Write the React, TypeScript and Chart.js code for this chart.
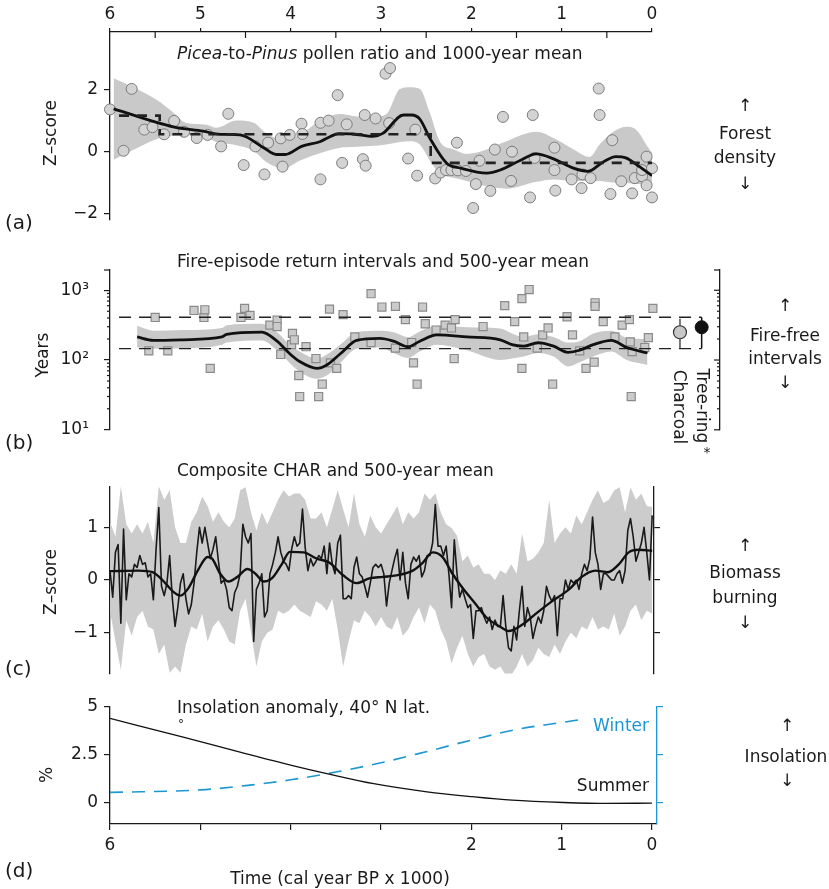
import React, { useEffect, useRef } from 'react';
import { Chart, registerables } from 'chart.js';

Chart.register(...registerables);

const FONT = "'DejaVu Sans', 'Liberation Sans', sans-serif";
const INK = '#1a1a1a';
const BLUE = '#1d97d4';
const BAND = '#c9c9c9';

Chart.defaults.font.family = FONT;
Chart.defaults.font.size = 17;
Chart.defaults.color = INK;

// ---------------- Panel (a): Picea-to-Pinus pollen ratio ----------------
const PICEA_T = [6.00, 5.85, 5.76, 5.62, 5.53, 5.40, 5.29, 5.18, 5.04, 4.92, 4.77, 4.69, 4.52, 4.39, 4.29, 4.25, 4.11, 4.09, 4.01, 3.88, 3.87, 3.67, 3.67, 3.58, 3.48, 3.43, 3.38, 3.20, 3.18, 3.17, 3.06, 2.95, 2.91, 2.90, 2.70, 2.62, 2.60, 2.40, 2.34, 2.28, 2.22, 2.16, 2.15, 2.06, 1.98, 1.95, 1.91, 1.79, 1.74, 1.65, 1.56, 1.55, 1.35, 1.32, 1.30, 1.08, 1.08, 1.07, 0.89, 0.78, 0.77, 0.68, 0.59, 0.58, 0.46, 0.44, 0.34, 0.22, 0.19, 0.11, 0.11, 0.06, 0.06, 0.00, 0.00];
const PICEA_Z = [1.35, 0.02, 2.01, 0.70, 0.78, 0.55, 0.98, 0.63, 0.43, 0.53, 0.16, 1.21, -0.44, 0.16, -0.74, 0.28, 0.42, -0.49, 0.53, 0.89, 0.56, -0.90, 0.92, 0.99, 1.81, -0.37, 0.87, -0.25, 1.17, -0.46, 1.06, 2.50, 0.91, 2.68, -0.23, 0.70, -0.78, -0.87, -0.68, -0.60, -0.60, 0.28, -0.61, -0.63, -1.82, -1.05, -0.30, -1.27, 0.06, 1.11, -0.95, -0.01, -1.48, 1.17, -0.21, 0.12, -0.60, -1.26, -0.90, -1.18, -0.74, -0.86, 2.02, 1.17, -1.37, 0.36, -0.96, -1.35, -0.86, -0.80, -0.60, -0.17, -1.09, -0.54, -1.48];
const PICEA_MEAN_T = [5.96, 5.30, 4.97, 4.78, 4.56, 4.30, 4.16, 4.06, 3.88, 3.67, 3.56, 3.47, 3.31, 3.09, 2.98, 2.75, 2.66, 2.57, 2.46, 2.27, 2.12, 1.83, 1.68, 1.46, 1.28, 1.09, 0.87, 0.71, 0.54, 0.40, 0.29, 0.14, 0.00];
const PICEA_MEAN_Z = [1.37, 0.79, 0.65, 0.55, 0.53, 0.12, -0.10, -0.10, 0.16, 0.32, 0.48, 0.57, 0.56, 0.48, 0.58, 1.17, 1.17, 1.04, 0.43, -0.39, -0.54, -0.70, -0.60, -0.29, -0.08, -0.24, -0.54, -0.64, -0.34, -0.17, -0.21, -0.49, -0.78];
const PICEA_BAND_T = [5.96, 5.74, 5.48, 5.30, 5.16, 4.93, 4.82, 4.60, 4.41, 4.27, 4.08, 3.90, 3.67, 3.45, 3.31, 3.12, 2.94, 2.79, 2.68, 2.57, 2.46, 2.35, 2.20, 2.05, 1.87, 1.61, 1.28, 1.09, 0.87, 0.69, 0.58, 0.43, 0.28, 0.17, 0.04, 0.00];
const PICEA_BAND_UP = [2.35, 2.06, 1.65, 1.25, 0.92, 0.86, 0.76, 0.99, 0.92, 0.58, 0.38, 0.53, 0.99, 1.20, 1.14, 1.09, 1.20, 2.01, 2.06, 2.01, 1.25, 0.33, 0.07, -0.08, 0.02, 0.33, 0.63, 0.43, 0.07, -0.18, 0.22, 0.63, 0.79, 0.68, 0.12, -0.04];
const PICEA_BAND_LO = [-0.27, 0.05, 0.40, 0.50, 0.52, 0.45, 0.30, 0.20, 0.02, -0.34, -0.55, -0.30, -0.05, 0.12, 0.14, 0.17, 0.22, 0.30, 0.33, 0.22, -0.29, -0.70, -0.85, -0.95, -1.10, -1.20, -0.98, -0.90, -0.95, -0.95, -0.95, -1.00, -1.02, -1.05, -1.10, -1.20];
const PICEA_STEP_T = [5.9, 5.45, 5.45, 2.45, 2.45, 0.0];
const PICEA_STEP_Z = [1.15, 1.15, 0.55, 0.55, -0.37, -0.37];
const TOP_TICKS = [6, 5, 4, 3, 2, 1, 0];
const TOP_MINOR_TICKS = [5.5, 4.5, 3.5, 2.5, 1.5, 0.5];

// ---------------- Panel (b): fire-episode return intervals ----------------
const FRI_T = [5.57, 5.50, 5.36, 5.07, 4.96, 4.95, 4.89, 4.55, 4.51, 4.45, 4.23, 4.15, 4.15, 4.11, 3.99, 3.98, 3.96, 3.91, 3.90, 3.83, 3.72, 3.69, 3.65, 3.57, 3.56, 3.49, 3.42, 3.29, 3.11, 3.11, 2.99, 2.84, 2.84, 2.73, 2.66, 2.64, 2.60, 2.54, 2.51, 2.39, 2.29, 2.22, 2.19, 2.18, 1.87, 1.63, 1.52, 1.44, 1.44, 1.42, 1.36, 1.27, 1.21, 1.15, 1.10, 0.94, 0.88, 0.80, 0.73, 0.64, 0.63, 0.63, 0.54, 0.41, 0.33, 0.25, 0.24, 0.23, 0.22, 0.08, 0.04, -0.01];
const FRI_YEARS = [135, 407, 135, 513, 407, 525, 76, 407, 550, 437, 316, 372, 302, 120, 166, 240, 195, 60, 30, 155, 105, 30, 45, 537, 91, 76, 447, 214, 891, 178, 575, 589, 148, 380, 178, 91, 45, 575, 331, 269, 316, 288, 105, 380, 302, 603, 355, 759, 76, 214, 1023, 148, 229, 288, 45, 417, 229, 135, 76, 93, 661, 589, 355, 214, 316, 380, 182, 30, 132, 151, 209, 550];
const FRI_MEAN_T = [5.70, 5.52, 5.19, 4.76, 4.71, 4.32, 4.15, 4.01, 3.90, 3.71, 3.60, 3.45, 3.27, 3.01, 2.86, 2.70, 2.57, 2.38, 2.05, 1.68, 1.55, 1.42, 1.26, 1.09, 0.93, 0.80, 0.65, 0.45, 0.28, 0.05];
const FRI_MEAN = [214, 191, 195, 214, 234, 251, 186, 123, 95, 76, 85, 123, 191, 204, 186, 155, 186, 229, 214, 195, 166, 158, 178, 158, 129, 138, 166, 191, 151, 126];
const FRI_BAND_UP = [309, 263, 269, 288, 316, 331, 251, 166, 132, 105, 120, 166, 251, 263, 251, 214, 257, 309, 295, 282, 240, 214, 234, 214, 178, 186, 240, 263, 209, 200];
const FRI_BAND_LO = [151, 145, 148, 166, 178, 191, 138, 91, 68, 54, 60, 91, 145, 151, 126, 107, 132, 166, 138, 100, 105, 112, 126, 112, 81, 93, 112, 132, 100, 85];
const FRI_RANGE_T = [5.9, -0.55];
const FRI_RANGE_HIGH = 410;
const FRI_RANGE_LOW = 146;
const CHARCOAL_T = -0.31;
const CHARCOAL_MEAN = 250;
const CHARCOAL_RANGE = [148, 390];
const TREERING_T = -0.55;
const TREERING_MEAN = 295;
const TREERING_RANGE = [146, 410];
const LOG_MAJOR = [10, 100, 1000];
const LOG_MINOR = [20, 30, 40, 50, 60, 70, 80, 90, 200, 300, 400, 500, 600, 700, 800, 900];

// ---------------- Panel (c): composite CHAR ----------------
const CHAR_START_KYR = 6;
const CHAR_STEP_KYR = 0.03;
const CHAR_RAW = [
  0.18, -0.33, 0.53, 0.68, -0.83, 0.98, -0.38, 0.12, 0.06, 0.30,
  0.24, 0.47, 0.30, 0.33, 0.06, 0.12, -0.38, 0.59, 1.39, -0.12,
  -0.30, -0.06, 0.47, -0.36, -0.89, -0.53, -0.06, 0.12, -0.36, -0.65,
  -0.47, -0.06, 0.53, 1.01, 0.71, 1.01, 0.71, 0.41, 0.59, 0.83,
  0.36, -0.06, 0.00, -0.18, -0.53, -0.59, -0.24, -0.12, 0.12, 1.07,
  0.83, 0.71, 0.89, -1.18, -0.18, -0.06, 0.12, -0.71, -0.59, 0.12,
  0.30, 0.53, 0.83, 0.53, 0.36, 0.30, 0.18, 0.59, 0.83, 0.65,
  0.71, 1.36, 0.62, 0.18, 0.41, 0.27, 0.36, 0.47, 0.41, 0.65,
  0.12, 0.71, 0.30, 0.12, 0.71, 0.86, -0.36, -0.36, -0.30, -0.36,
  0.24, 0.44, 0.12, 0.06, -0.12, -0.33, -0.06, 0.24, 0.30, 0.24,
  0.30, 0.12, -0.50, -0.06, 0.18, 0.41, 0.59, 0.00, 0.53, -0.06,
  -0.36, 0.30, 0.44, 0.36, 0.47, 0.06, 0.18, 0.47, 0.47, 0.71,
  1.45, 0.65, 0.65, 0.47, 0.65, 0.12, -0.53, 0.77, 0.12, -0.33,
  -0.18, -0.36, -0.53, -0.47, -1.12, -0.59, -0.59, -0.53, -0.71, -0.83,
  -0.71, -0.95, -0.77, -0.89, -0.89, -0.30, -0.89, -1.30, -1.36, -0.89,
  -1.15, -0.59, -0.12, -0.89, -0.53, -0.71, -1.12, -0.89, -0.71, -0.83,
  -0.59, -0.12, -0.30, -0.41, -0.30, -1.07, -0.36, -0.36, 0.00, -0.18,
  0.00, -0.06, 0.00, -0.18, 0.12, 0.30, 0.18, 0.41, 1.21, 0.53,
  0.30, -0.18, 0.12, 0.12, 0.06, 0.00, 0.00, 0.12, 0.18, -0.06,
  0.18, 0.95, 1.18, 0.83, 0.36, 0.53, 0.71, 1.01, 0.53, 0.00,
  1.24,
];
const CHAR_BAND_STEP_KYR = 0.06;
const CHAR_BAND_UP = [
  1.12, 0.83, 1.80, 1.07, 0.89, 1.07, 0.89, 1.12, 0.71, 1.80,
  1.54, 1.72, 1.01, 0.71, 0.71, 1.12, 1.30, 1.60, 1.42, 1.12,
  1.30, 1.12, 1.01, 1.18, 1.72, 1.78, 1.30, 0.95, 1.30, 1.07,
  1.30, 1.54, 1.72, 1.60, 1.66, 1.66, 1.54, 1.18, 1.18, 1.30,
  1.01, 1.36, 1.72, 1.36, 1.01, 1.66, 1.07, 0.83, 1.24, 1.01,
  0.89, 1.07, 1.24, 1.42, 1.07, 1.30, 1.18, 1.30, 1.66, 1.54,
  1.66, 1.30, 1.07, 1.00, 0.85, 0.36, 0.47, 0.24, 0.30, 0.12,
  0.12, 0.00, 0.18, 0.12, 0.30, 0.12, 0.89, 0.36, 0.41, 0.53,
  0.71, 1.54, 0.71, 0.89, 1.01, 0.89, 1.24, 1.07, 1.30, 1.54,
  1.72, 1.48, 1.54, 1.72, 1.78, 1.30, 1.78, 1.54, 1.66, 1.42,
  1.40,
];
const CHAR_BAND_LO = [
  -0.59, -1.18, -1.72, -0.77, -1.07, -0.71, -0.59, -0.89, -0.95, -1.42,
  -1.24, -1.78, -1.66, -1.78, -1.24, -0.89, -0.95, -0.65, -1.18, -0.89,
  -0.77, -0.95, -1.18, -1.24, -0.59, -0.36, -1.00, -1.66, -1.18, -1.01,
  -0.95, -0.59, -0.65, -0.59, -0.47, -0.59, -0.65, -0.71, -0.41, -0.47,
  -0.59, -0.36, -0.95, -1.66, -1.18, -0.77, -0.83, -0.59, -0.71, -0.89,
  -0.71, -0.89, -0.95, -0.71, -1.07, -0.95, -0.71, -0.53, -0.83, -0.47,
  -0.59, -0.95, -1.18, -1.60, -1.30, -1.07, -1.42, -1.66, -1.48, -1.42,
  -1.66, -1.72, -1.66, -1.83, -1.83, -1.66, -1.42, -1.66, -1.54, -1.30,
  -1.42, -1.48, -1.24, -1.42, -1.18, -1.01, -1.12, -0.89, -0.95, -0.71,
  -0.95, -0.89, -0.95, -0.65, -1.07, -0.89, -0.59, -0.47, -0.77, -0.59,
  -0.65,
];
const CHAR_MEAN_T = [6.00, 5.68, 5.53, 5.42, 5.31, 5.22, 5.13, 5.02, 4.92, 4.87, 4.78, 4.69, 4.59, 4.48, 4.39, 4.30, 4.21, 4.10, 4.01, 3.86, 3.71, 3.57, 3.42, 3.27, 3.13, 2.98, 2.83, 2.65, 2.54, 2.43, 2.32, 2.21, 2.10, 1.95, 1.84, 1.66, 1.59, 1.44, 1.29, 1.11, 0.92, 0.78, 0.63, 0.49, 0.37, 0.26, 0.15, 0.00];
const CHAR_MEAN_Z = [0.17, 0.18, 0.15, 0.00, -0.21, -0.30, -0.15, 0.21, 0.44, 0.41, 0.12, -0.03, 0.06, 0.21, 0.12, -0.03, 0.03, 0.30, 0.54, 0.53, 0.41, 0.33, 0.09, -0.06, 0.03, 0.06, 0.09, 0.18, 0.33, 0.53, 0.44, 0.12, -0.15, -0.47, -0.71, -0.92, -0.98, -0.86, -0.65, -0.41, -0.18, 0.06, 0.18, 0.15, 0.30, 0.53, 0.58, 0.56];

// ---------------- Panel (d): insolation anomaly ----------------
const SUMMER_T = [6, 5.2, 4.55, 3.99, 3.55, 3.08, 2.49, 1.99, 1.55, 0.98, 0.5, 0];
const SUMMER_PCT = [4.37, 3.42, 2.62, 1.95, 1.47, 1.0, 0.58, 0.33, 0.15, 0.03, -0.02, 0];
const WINTER_T = [6, 5, 4.5, 4, 3.5, 3, 2.5, 2, 1.5, 1, 0.78];
const WINTER_PCT = [-4.45, -4.32, -4.1, -3.8, -3.4, -2.92, -2.35, -1.75, -1.2, -0.84, -0.68];
const BOTTOM_LABELLED = [6, 2, 1, 0];

// ---------------- helpers ----------------
const pts = (xs: number[], ys: number[]) => xs.map((x, i) => ({ x, y: ys[i] }));
const regular = (start: number, step: number, ys: number[]) =>
  ys.map((y, i) => ({ x: +(start - i * step).toFixed(3), y }));
const fmt = (v: number) => (v < 0 ? '\u2212' + String(-v) : String(v));
const fixed = (vals: number[]) => (s: any) => {
  s.ticks = vals.map((value) => ({ value }));
};

const extraTicksPlugin = {
  id: 'extraTicks',
  afterDraw(chart: any, _args: any, opts: any) {
    const items = (opts && opts.items) || [];
    const { ctx, chartArea } = chart;
    ctx.save();
    ctx.lineWidth = 1.2;
    for (const it of items) {
      const s = chart.scales[it.scale];
      ctx.strokeStyle = it.color || INK;
      for (const v of it.values) {
        const p = s.getPixelForValue(v);
        ctx.beginPath();
        if (it.edge === 'top' || it.edge === 'bottom') {
          const y0 = it.edge === 'top' ? chartArea.top : chartArea.bottom;
          ctx.moveTo(p, y0);
          ctx.lineTo(p, y0 + it.len);
        } else {
          const x0 = it.edge === 'right' ? chartArea.right : chartArea.left;
          ctx.moveTo(x0, p);
          ctx.lineTo(x0 + it.len, p);
        }
        ctx.stroke();
      }
    }
    ctx.restore();
  },
};
Chart.register(extraTicksPlugin);

function axis(o: any) {
  const { ticks = {}, grid = {}, border = {}, ...rest } = o;
  return {
    ...rest,
    grid: { drawOnChartArea: false, color: INK, lineWidth: 1.2, tickLength: 6, ...grid },
    border: { color: INK, width: 1.3, ...border },
    ticks: { color: INK, font: { family: FONT, size: 17 }, autoSkip: false, maxRotation: 0, padding: 5, ...ticks },
  };
}

function baseOptions(padding: any, scales: any, items: any[]) {
  return {
    responsive: false,
    maintainAspectRatio: false,
    animation: false,
    devicePixelRatio: 1,
    events: [],
    layout: { padding },
    plugins: { legend: { display: false }, tooltip: { enabled: false }, title: { display: false }, extraTicks: { items } },
    elements: { point: { hoverRadius: 0 } },
    scales,
  };
}

const hiddenLine = { borderColor: 'rgba(0,0,0,0)', borderWidth: 0, pointRadius: 0 };

function makeA() {
  return {
    type: 'line',
    data: {
      datasets: [
        { ...hiddenLine, data: pts(PICEA_BAND_T, PICEA_BAND_UP), fill: '+1', backgroundColor: BAND, cubicInterpolationMode: 'monotone', order: 10 },
        { ...hiddenLine, data: pts(PICEA_BAND_T, PICEA_BAND_LO), fill: false, cubicInterpolationMode: 'monotone', order: 11 },
        { data: pts(PICEA_T, PICEA_Z), showLine: false, pointRadius: 5.5, pointBackgroundColor: '#d3d3d3', pointBorderColor: '#7c7c7c', pointBorderWidth: 1, order: 3, clip: 12 },
        { data: pts(PICEA_STEP_T, PICEA_STEP_Z), borderColor: '#222', borderWidth: 2.6, borderDash: [10, 8], pointRadius: 0, fill: false, order: 1 },
        { data: pts(PICEA_MEAN_T, PICEA_MEAN_Z), borderColor: '#111', borderWidth: 2.8, pointRadius: 0, fill: false, cubicInterpolationMode: 'monotone', borderJoinStyle: 'round', order: 2 },
      ],
    },
    options: baseOptions(
      { left: 0, top: 0, right: 177, bottom: 7 },
      {
        x: axis({
          type: 'linear', position: 'top', min: 0, max: 6, reverse: true,
          afterBuildTicks: fixed(TOP_TICKS), afterFit: (s: any) => { s.height = 32; },
          ticks: { callback: (v: number) => fmt(v), padding: 3 }, grid: { tickLength: 4 },
        }),
        y: axis({
          type: 'linear', position: 'left', min: -2.2, max: 3.84,
          afterBuildTicks: fixed([-2, 0, 2]), afterFit: (s: any) => { s.width = 110; },
          ticks: { callback: (v: number) => fmt(v), padding: 6 },
        }),
      },
      [{ scale: 'x', edge: 'top', values: TOP_MINOR_TICKS, len: 6 }],
    ),
  };
}

function makeB() {
  const sq = { showLine: false, pointStyle: 'rect', pointRadius: 5.7, pointBackgroundColor: '#cbcbcb', pointBorderColor: '#8a8a8a', pointBorderWidth: 1.2, clip: 12 };
  const dashed = { borderColor: '#222', borderWidth: 1.3, borderDash: [12, 8], pointRadius: 0, fill: false };
  return {
    type: 'line',
    data: {
      datasets: [
        { ...hiddenLine, data: pts(FRI_MEAN_T, FRI_BAND_UP), fill: '+1', backgroundColor: BAND, cubicInterpolationMode: 'monotone', order: 10 },
        { ...hiddenLine, data: pts(FRI_MEAN_T, FRI_BAND_LO), fill: false, cubicInterpolationMode: 'monotone', order: 11 },
        { ...sq, data: pts(FRI_T, FRI_YEARS), order: 4 },
        { data: pts(FRI_MEAN_T, FRI_MEAN), borderColor: '#111', borderWidth: 2.8, pointRadius: 0, fill: false, cubicInterpolationMode: 'monotone', order: 2 },
        { ...dashed, data: pts(FRI_RANGE_T, [FRI_RANGE_HIGH, FRI_RANGE_HIGH]), order: 3 },
        { ...dashed, data: pts(FRI_RANGE_T, [FRI_RANGE_LOW, FRI_RANGE_LOW]), order: 3 },
        { data: pts([CHARCOAL_T, CHARCOAL_T], CHARCOAL_RANGE), borderColor: '#333', borderWidth: 1.3, pointRadius: 0, fill: false, order: 1, clip: 12 },
        { data: pts([TREERING_T, TREERING_T], TREERING_RANGE), borderColor: '#111', borderWidth: 1.5, pointRadius: 0, fill: false, order: 1, clip: 12 },
        { data: [{ x: CHARCOAL_T, y: CHARCOAL_MEAN }], showLine: false, pointRadius: 6.5, pointBackgroundColor: '#c8c8c8', pointBorderColor: '#333', pointBorderWidth: 1.2, order: 0, clip: 12 },
        { data: [{ x: TREERING_T, y: TREERING_MEAN }], showLine: false, pointRadius: 6.5, pointBackgroundColor: '#111', pointBorderColor: '#111', pointBorderWidth: 1, order: 0, clip: 12 },
      ],
    },
    options: baseOptions(
      { left: 0, top: 30, right: 109, bottom: 13 },
      {
        x: { type: 'linear', display: false, min: -0.753, max: 6, reverse: true },
        y: axis({
          type: 'logarithmic', position: 'left', min: 10, max: 1950,
          afterBuildTicks: fixed(LOG_MAJOR), afterFit: (s: any) => { s.width = 110; },
          ticks: { callback: (v: number) => (v === 10 ? '10\u00B9' : v === 100 ? '10\u00B2' : v === 1000 ? '10\u00B3' : ''), padding: 15 },
        }),
        y2: axis({
          type: 'logarithmic', position: 'right', min: 10, max: 1950,
          afterBuildTicks: fixed(LOG_MAJOR), afterFit: (s: any) => { s.width = 0; },
          ticks: { display: false }, grid: { drawTicks: false },
        }),
      },
      [
        { scale: 'y', edge: 'left', values: LOG_MINOR, len: -3 },
        { scale: 'y', edge: 'left', values: [1950], len: -6 },
        { scale: 'y', edge: 'right', values: [...LOG_MAJOR, 1950], len: -6 },
        { scale: 'y', edge: 'right', values: LOG_MINOR, len: -3 },
      ],
    ),
  };
}

function makeC() {
  return {
    type: 'line',
    data: {
      datasets: [
        { ...hiddenLine, data: regular(CHAR_START_KYR, CHAR_BAND_STEP_KYR, CHAR_BAND_UP), fill: '+1', backgroundColor: '#cccccc', order: 10 },
        { ...hiddenLine, data: regular(CHAR_START_KYR, CHAR_BAND_STEP_KYR, CHAR_BAND_LO), fill: false, order: 11 },
        { data: regular(CHAR_START_KYR, CHAR_STEP_KYR, CHAR_RAW), borderColor: '#1a1a1a', borderWidth: 1.6, pointRadius: 0, fill: false, borderJoinStyle: 'round', order: 2 },
        { data: pts(CHAR_MEAN_T, CHAR_MEAN_Z), borderColor: '#111', borderWidth: 2.4, pointRadius: 0, fill: false, cubicInterpolationMode: 'monotone', order: 1 },
      ],
    },
    options: baseOptions(
      { left: 0, top: 10.4, right: 175, bottom: 7 },
      {
        x: { type: 'linear', display: false, min: -0.02, max: 6, reverse: true },
        y: axis({
          type: 'linear', position: 'left', min: -1.8, max: 1.8,
          afterBuildTicks: fixed([-1, 0, 1]), afterFit: (s: any) => { s.width = 110; },
          ticks: { callback: (v: number) => fmt(v), padding: 6 },
        }),
        y2: axis({
          type: 'linear', position: 'right', min: -1.8, max: 1.8,
          afterBuildTicks: fixed([-1, 0, 1]), afterFit: (s: any) => { s.width = 0; },
          ticks: { display: false },
        }),
      },
      [],
    ),
  };
}

function makeD() {
  return {
    type: 'line',
    data: {
      datasets: [
        { data: pts(SUMMER_T, SUMMER_PCT), yAxisID: 'y', borderColor: '#111', borderWidth: 1.3, pointRadius: 0, fill: false, cubicInterpolationMode: 'monotone' },
        { data: pts(WINTER_T, WINTER_PCT), yAxisID: 'y2', borderColor: BLUE, borderWidth: 1.6, borderDash: [13, 9], pointRadius: 0, fill: false, cubicInterpolationMode: 'monotone' },
      ],
    },
    options: baseOptions(
      { left: 0, top: 16, right: 172, bottom: 0 },
      {
        x: axis({
          type: 'linear', position: 'bottom', min: -0.056, max: 6, reverse: true,
          afterBuildTicks: fixed(TOP_TICKS), afterFit: (s: any) => { s.height = 65; },
          ticks: { callback: (v: number) => (BOTTOM_LABELLED.includes(v) ? String(v) : ''), padding: 5 },
        }),
        y: axis({
          type: 'linear', position: 'left', min: -1.08, max: 5,
          afterBuildTicks: fixed([0, 2.5, 5]), afterFit: (s: any) => { s.width = 110; },
          ticks: { callback: (v: number) => fmt(v), padding: 6 },
        }),
        y2: axis({
          type: 'linear', position: 'right', min: -6.08, max: 0,
          afterBuildTicks: fixed([-5, -2.5, 0]), afterFit: (s: any) => { s.width = 0; },
          ticks: { color: BLUE, callback: (v: number) => (v === -2.5 ? '\u22122.5 %' : fmt(v)), padding: 4 },
          grid: { color: BLUE }, border: { color: BLUE },
        }),
      },
      [],
    ),
  };
}

function ChartCanvas({ top, height, make }: { top: number; height: number; make: () => any }) {
  const ref = useRef<HTMLCanvasElement | null>(null);
  useEffect(() => {
    if (!ref.current) return;
    const chart = new Chart(ref.current, make() as any);
    return () => chart.destroy();
  }, [make]);
  return (
    <canvas
      ref={ref}
      width={829}
      height={height}
      style={{ position: 'absolute', left: 0, top, width: 829, height, display: 'block' }}
    />
  );
}

type TxtProps = {
  x: number; y: number; children: React.ReactNode; size?: number; color?: string;
  align?: 'left' | 'center' | 'right'; rotate?: number;
};
function Txt({ x, y, children, size = 17, color = INK, align = 'center', rotate = 0 }: TxtProps) {
  const tx = align === 'left' ? '0' : align === 'right' ? '-100%' : '-50%';
  return (
    <div
      style={{
        position: 'absolute', left: x, top: y, transform: `translate(${tx}, -50%) rotate(${rotate}deg)`,
        fontSize: size, color, whiteSpace: 'nowrap', lineHeight: 1, fontFamily: FONT, textAlign: 'center',
      }}
    >
      {children}
    </div>
  );
}

export default function App() {
  useEffect(() => {
    document.body.style.margin = '0';
  }, []);
  return (
    <div style={{ position: 'absolute', left: 0, top: 0, width: 829, height: 889, background: '#fff', overflow: 'hidden', fontFamily: FONT, color: INK }}>
      <ChartCanvas top={0} height={236} make={makeA} />
      <ChartCanvas top={240} height={215} make={makeB} />
      <ChartCanvas top={470} height={220} make={makeC} />
      <ChartCanvas top={690} height={199} make={makeD} />

      {/* titles */}
      <Txt x={177} y={53} align="left"><i>Picea</i>-to-<i>Pinus</i> pollen ratio and 1000-year mean</Txt>
      <Txt x={177} y={261} align="left">Fire-episode return intervals and 500-year mean</Txt>
      <Txt x={177} y={470} align="left">Composite CHAR and 500-year mean</Txt>
      <Txt x={177} y={707} align="left">Insolation anomaly, 40° N lat.</Txt>
      <Txt x={181} y={724} size={12}>°</Txt>

      {/* axis titles */}
      <Txt x={50} y={133} rotate={-90}>Z–score</Txt>
      <Txt x={42} y={355} rotate={-90}>Years</Txt>
      <Txt x={50} y={582} rotate={-90}>Z–score</Txt>
      <Txt x={46} y={775} rotate={-90}>%</Txt>
      <Txt x={340} y={878}>Time (cal year BP x 1000)</Txt>

      {/* panel letters */}
      <Txt x={5} y={222} size={20} align="left">(a)</Txt>
      <Txt x={5} y={442} size={20} align="left">(b)</Txt>
      <Txt x={5} y={668} size={20} align="left">(c)</Txt>
      <Txt x={5} y={870} size={20} align="left">(d)</Txt>

      {/* right-hand annotations */}
      <Txt x={745} y={105}>↑</Txt>
      <Txt x={745} y={133}>Forest</Txt>
      <Txt x={745} y={157}>density</Txt>
      <Txt x={745} y={183}>↓</Txt>

      <Txt x={785} y={305}>↑</Txt>
      <Txt x={785} y={335}>Fire-free</Txt>
      <Txt x={785} y={358}>intervals</Txt>
      <Txt x={785} y={382}>↓</Txt>

      <Txt x={745} y={545}>↑</Txt>
      <Txt x={745} y={572}>Biomass</Txt>
      <Txt x={745} y={597}>burning</Txt>
      <Txt x={745} y={622}>↓</Txt>

      <Txt x={787} y={725}>↑</Txt>
      <Txt x={786} y={756}>Insolation</Txt>
      <Txt x={787} y={780}>↓</Txt>

      {/* charcoal / tree-ring labels */}
      <Txt x={679} y={407} rotate={90}>Charcoal</Txt>
      <Txt x={702} y={406} rotate={90}>Tree-ring</Txt>
      <Txt x={707} y={452} size={14}>*</Txt>

      {/* insolation series labels */}
      <Txt x={649} y={725} align="right" color={BLUE}>Winter</Txt>
      <Txt x={649} y={785} align="right">Summer</Txt>
    </div>
  );
}
